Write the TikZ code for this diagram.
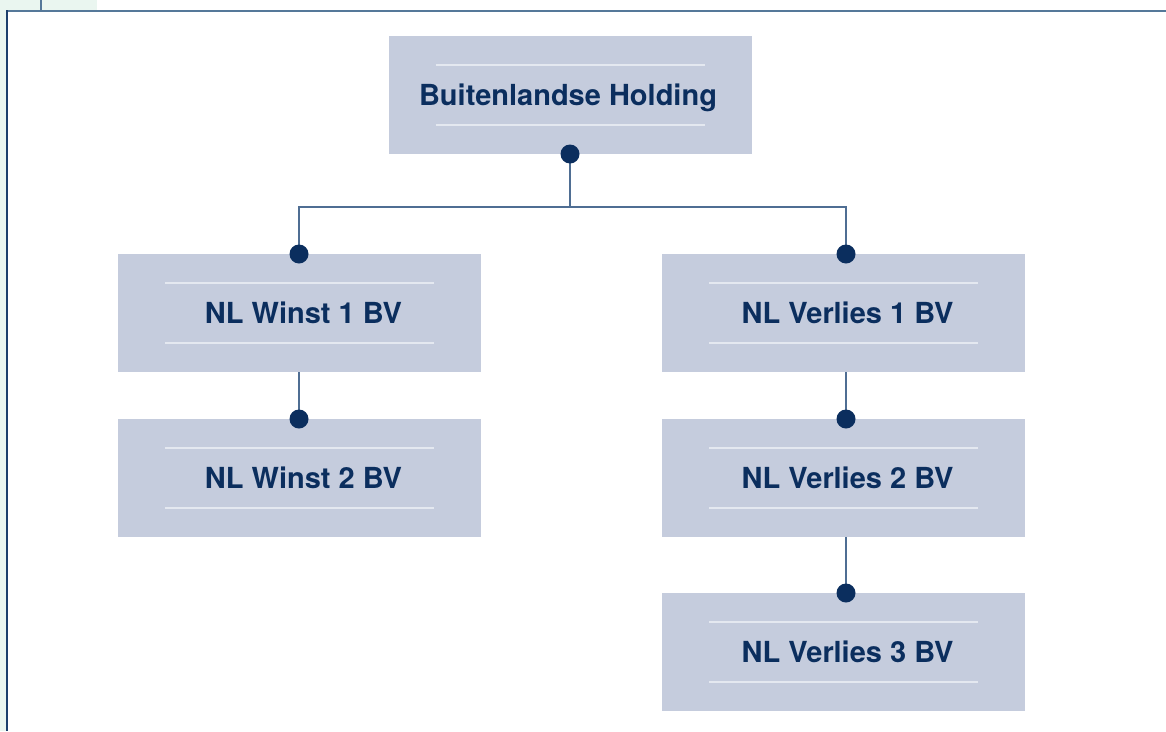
\documentclass[tikz,border=0pt]{standalone}
\usepackage{fontspec}
\setmainfont{TeX Gyre Heros}
\definecolor{greenbg}{HTML}{EAF6F0}
\definecolor{boxfill}{HTML}{C5CCDD}
\definecolor{navy}{HTML}{0B2E5E}
\definecolor{connc}{HTML}{4F6E93}
\definecolor{framec}{HTML}{557899}
\definecolor{leftc}{HTML}{1C3F6C}
\definecolor{innerc}{HTML}{E4E8F0}
\tikzset{
  entity/.style={fill=boxfill, minimum width=363pt, minimum height=118.5pt, inner sep=0pt,
    text=navy, font=\fontsize{29}{33}\selectfont\bfseries,
    text height=21pt, text depth=0pt,
    execute at begin node={\hspace*{#1}},
    path picture={
      \draw[innerc, line width=1.2pt]
        ([xshift=47pt,yshift=-29pt]path picture bounding box.north west) --
        ([xshift=-47pt,yshift=-29pt]path picture bounding box.north east);
      \draw[innerc, line width=1.2pt]
        ([xshift=47pt,yshift=29.5pt]path picture bounding box.south west) --
        ([xshift=-47pt,yshift=29.5pt]path picture bounding box.south east);
    }},
  entity/.default=8pt,
  conn/.style={connc, line width=1.4pt},
  dotmark/.style={fill=navy}
}
\begin{document}
\begin{tikzpicture}[x=1pt,y=-1pt]
\useasboundingbox (0,0) rectangle (1166,731);
\fill[greenbg] (0,0) rectangle (97,10);
\fill[greenbg] (0,0) rectangle (6,731);
\draw[framec, line width=2pt] (41,0) -- (41,10);
\draw[framec, line width=2pt] (6,10.5) -- (1166,10.5);
\draw[leftc, line width=2pt] (7,10) -- (7,731);

\node[entity=-4pt] (top) at (570,95.2) {Buitenlandse Holding};
\node[entity] (w1) at (299.5,313.2) {NL Winst 1 BV};
\node[entity] (w2) at (299.5,478.2) {NL Winst 2 BV};
\node[entity] (v1) at (843.5,313.2) {NL Verlies 1 BV};
\node[entity] (v2) at (843.5,478.2) {NL Verlies 2 BV};
\node[entity] (v3) at (843.5,652.2) {NL Verlies 3 BV};

\coordinate (j) at (570,207);
\coordinate (w1top) at (299,254);
\coordinate (v1top) at (846,254);
\coordinate (w1bot) at (299,372);
\coordinate (w2top) at (299,419);
\coordinate (v1bot) at (846,372);
\coordinate (v2top) at (846,419);
\coordinate (v2bot) at (846,537);
\coordinate (v3top) at (846,593);
\coordinate (topbot) at (570,154);

\draw[conn] (topbot) -- (j) -| (w1top);
\draw[conn] (j) -| (v1top);
\draw[conn] (w1bot) -- (w2top);
\draw[conn] (v1bot) -- (v2top);
\draw[conn] (v2bot) -- (v3top);

\foreach \p in {topbot,w1top,v1top,w2top,v2top,v3top}
  \fill[dotmark] (\p) circle (9.5pt);
\end{tikzpicture}
\end{document}
